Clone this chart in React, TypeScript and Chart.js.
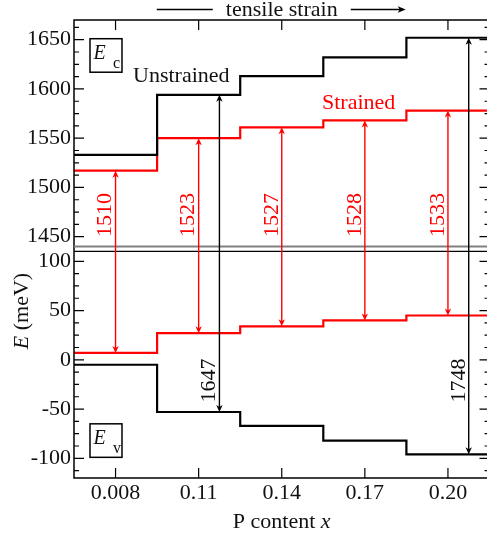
import React, { useEffect, useRef } from "react";
import { Chart, registerables } from "chart.js";

Chart.register(...registerables);

// ---------- data ----------
const categories = ["0.008", "0.11", "0.14", "0.17", "0.20"];
const ecUnstrained = [1533, 1594, 1613, 1632, 1652];
const evUnstrained = [-5, -53, -67, -82, -96];
const ecStrained = [1517, 1550, 1561, 1568, 1578];
const evStrained = [7, 27, 34, 40, 45];
const strainedGapLabels = ["1510", "1523", "1527", "1528", "1533"];
const unstrainedArrowCategories = [1, 4];
const unstrainedGapLabels = ["1647", "1748"];
const ecTicks = [1450, 1500, 1550, 1600, 1650];
const evTicks = [-100, -50, 0, 50, 100];
const ecRange = [1440, 1670];
const evRange = [-120, 110];
const minorStep = 12.5;

// ---------- broken-axis mapping ----------
const GAP = 5;
const OFFSET = ecRange[0] - evRange[1] - GAP; // top panel values shifted onto the shared axis
const mapC = (v: number) => v - OFFSET;
const mapV = (v: number) => v;

const FONT = "'Liberation Serif', 'Times New Roman', serif";
const W = 496;
const H = 537;

function steps(values: number[], map: (v: number) => number) {
  const pts: { x: number; y: number }[] = [];
  values.forEach((v, i) => {
    pts.push({ x: i - 0.5, y: map(v) });
    pts.push({ x: i + 0.5, y: map(v) });
  });
  return pts;
}

function arrowHead(ctx: CanvasRenderingContext2D, x: number, tipY: number, dir: number, color: string) {
  // dir = -1 pointing up, +1 pointing down
  const len = 7;
  const half = 3.2;
  ctx.save();
  ctx.fillStyle = color;
  ctx.beginPath();
  ctx.moveTo(x, tipY);
  ctx.lineTo(x - half, tipY - dir * len);
  ctx.lineTo(x, tipY - dir * (len - 2));
  ctx.lineTo(x + half, tipY - dir * len);
  ctx.closePath();
  ctx.fill();
  ctx.restore();
}

function doubleArrow(
  ctx: CanvasRenderingContext2D,
  x: number,
  yTop: number,
  yBot: number,
  color: string,
  lw: number
) {
  ctx.save();
  ctx.strokeStyle = color;
  ctx.lineWidth = lw;
  ctx.beginPath();
  ctx.moveTo(x, yTop + 3);
  ctx.lineTo(x, yBot - 3);
  ctx.stroke();
  ctx.restore();
  arrowHead(ctx, x, yTop, -1, color);
  arrowHead(ctx, x, yBot, 1, color);
}

function rotatedText(ctx: CanvasRenderingContext2D, text: string, x: number, y: number, color: string) {
  ctx.save();
  ctx.translate(x, y);
  ctx.rotate(-Math.PI / 2);
  ctx.fillStyle = color;
  ctx.font = `22px ${FONT}`;
  ctx.textAlign = "center";
  ctx.textBaseline = "middle";
  ctx.fillText(text, 0, 0);
  ctx.restore();
}

function labelBox(ctx: CanvasRenderingContext2D, x: number, y: number, sub: string) {
  ctx.save();
  ctx.strokeStyle = "#000";
  ctx.lineWidth = 1.5;
  ctx.strokeRect(x, y, 32, 33.5);
  ctx.fillStyle = "#111";
  ctx.textAlign = "left";
  ctx.textBaseline = "alphabetic";
  ctx.font = `italic 20px ${FONT}`;
  ctx.fillText("E", x + 3.5, y + 20);
  ctx.font = `16px ${FONT}`;
  ctx.fillText(sub, x + 23, y + 29.5);
  ctx.restore();
}

const overlayPlugin = {
  id: "overlay",
  afterDatasetsDraw(chart: any) {
    const ctx: CanvasRenderingContext2D = chart.ctx;
    const xs = chart.scales.x;
    const ys = chart.scales.y;
    const area = chart.chartArea;
    const L = area.left;
    const R = area.right;
    const T = area.top;
    const B = area.bottom;
    const topPanelBottom = ys.getPixelForValue(mapC(ecRange[0]));
    const botPanelTop = ys.getPixelForValue(mapV(evRange[1]));

    ctx.save();
    // frames
    ctx.strokeStyle = "#000";
    ctx.lineWidth = 1.5;
    ctx.beginPath();
    ctx.moveTo(L, T);
    ctx.lineTo(R, T);
    ctx.lineTo(R, B);
    ctx.lineTo(L, B);
    ctx.closePath();
    ctx.stroke();
    ctx.strokeStyle = "#808080";
    ctx.lineWidth = 2;
    ctx.beginPath();
    ctx.moveTo(L, topPanelBottom);
    ctx.lineTo(R, topPanelBottom);
    ctx.stroke();
    ctx.strokeStyle = "#000";
    ctx.lineWidth = 1.2;
    ctx.beginPath();
    ctx.moveTo(L, botPanelTop);
    ctx.lineTo(R, botPanelTop);
    ctx.stroke();

    // y ticks (inward, both sides)
    const drawYTicks = (range: number[], majors: number[], map: (v: number) => number) => {
      const start = Math.ceil(range[0] / minorStep) * minorStep;
      for (let v = start; v < range[1]; v += minorStep) {
        const p = ys.getPixelForValue(map(v));
        const isMajor = majors.includes(v);
        const len = isMajor ? 10 : 5;
        ctx.strokeStyle = "#000";
        ctx.lineWidth = 1.2;
        ctx.beginPath();
        ctx.moveTo(L, p);
        ctx.lineTo(L + len, p);
        ctx.moveTo(R, p);
        ctx.lineTo(R - len, p);
        ctx.stroke();
      }
    };
    drawYTicks(ecRange, ecTicks, mapC);
    drawYTicks(evRange, evTicks, mapV);

    // x ticks (inward, top and bottom)
    categories.forEach((_, i) => {
      const px = xs.getPixelForValue(i);
      ctx.strokeStyle = "#000";
      ctx.lineWidth = 1.2;
      ctx.beginPath();
      ctx.moveTo(px, T);
      ctx.lineTo(px, T + 10);
      ctx.moveTo(px, B);
      ctx.lineTo(px, B - 10);
      ctx.stroke();
    });

    // strained gap arrows
    categories.forEach((_, i) => {
      const px = xs.getPixelForValue(i);
      const yTop = ys.getPixelForValue(mapC(ecStrained[i]));
      const yBot = ys.getPixelForValue(mapV(evStrained[i]));
      doubleArrow(ctx, px, yTop, yBot, "#ff0000", 1.4);
      rotatedText(ctx, strainedGapLabels[i], px - 10, ys.getPixelForValue(mapC(1472)), "#ff0000");
    });

    // unstrained gap arrows
    unstrainedArrowCategories.forEach((ci, k) => {
      const px = xs.getPixelForValue(ci + 0.25);
      const yTop = ys.getPixelForValue(mapC(ecUnstrained[ci]));
      const yBot = ys.getPixelForValue(mapV(evUnstrained[ci]));
      doubleArrow(ctx, px, yTop, yBot, "#000", 1.4);
      rotatedText(ctx, unstrainedGapLabels[k], px - 10, ys.getPixelForValue(mapV(-21)), "#111");
    });

    // text annotations
    ctx.font = `22px ${FONT}`;
    ctx.textBaseline = "alphabetic";
    ctx.textAlign = "left";
    ctx.fillStyle = "#111";
    ctx.fillText("Unstrained", L + 59, ys.getPixelForValue(mapC(1607)));
    ctx.fillStyle = "#ff0000";
    ctx.fillText("Strained", L + 248, ys.getPixelForValue(mapC(1580)));

    labelBox(ctx, L + 16, ys.getPixelForValue(mapC(1651)), "c");
    labelBox(ctx, L + 16, ys.getPixelForValue(mapV(-65)), "v");

    // top "tensile strain" annotation
    const cx = (L + R) / 2;
    ctx.fillStyle = "#111";
    ctx.textAlign = "center";
    ctx.fillText("tensile strain", cx, 16);
    ctx.strokeStyle = "#000";
    ctx.lineWidth = 1.3;
    ctx.beginPath();
    ctx.moveTo(cx - 125, 9.5);
    ctx.lineTo(cx - 69, 9.5);
    ctx.moveTo(cx + 69, 9.5);
    ctx.lineTo(cx + 120, 9.5);
    ctx.stroke();
    ctx.fillStyle = "#000";
    ctx.beginPath();
    ctx.moveTo(cx + 124, 9.5);
    ctx.lineTo(cx + 116, 6.3);
    ctx.lineTo(cx + 118, 9.5);
    ctx.lineTo(cx + 116, 12.7);
    ctx.closePath();
    ctx.fill();

    // x title: "P content x"
    ctx.fillStyle = "#111";
    ctx.textAlign = "left";
    ctx.font = `22px ${FONT}`;
    const part1 = "P content ";
    const w1 = ctx.measureText(part1).width;
    ctx.font = `italic 22px ${FONT}`;
    const w2 = ctx.measureText("x").width;
    const sx = cx - (w1 + w2) / 2;
    ctx.font = `22px ${FONT}`;
    ctx.fillText(part1, sx, 528);
    ctx.font = `italic 22px ${FONT}`;
    ctx.fillText("x", sx + w1, 528);

    // y title: "E (meV)"
    ctx.save();
    ctx.translate(28, 311);
    ctx.rotate(-Math.PI / 2);
    ctx.font = `italic 22px ${FONT}`;
    const e1 = ctx.measureText("E").width;
    ctx.font = `22px ${FONT}`;
    const e2 = ctx.measureText(" (meV)").width;
    const s0 = -(e1 + e2) / 2;
    ctx.font = `italic 22px ${FONT}`;
    ctx.fillText("E", s0, 0);
    ctx.font = `22px ${FONT}`;
    ctx.fillText(" (meV)", s0 + e1, 0);
    ctx.restore();

    ctx.restore();
  },
};

export default function App() {
  const ref = useRef<HTMLCanvasElement | null>(null);

  useEffect(() => {
    if (!ref.current) return;
    const lineDs = (data: any, color: string) => ({
      data,
      borderColor: color,
      borderWidth: 2.2,
      pointRadius: 0,
      tension: 0,
      fill: false,
    });
    const chart = new Chart(ref.current, {
      type: "line",
      data: {
        datasets: [
          lineDs(steps(ecUnstrained, mapC), "#000"),
          lineDs(steps(evUnstrained, mapV), "#000"),
          lineDs(steps(ecStrained, mapC), "#ff0000"),
          lineDs(steps(evStrained, mapV), "#ff0000"),
        ],
      },
      options: {
        animation: false,
        responsive: false,
        devicePixelRatio: 1,
        parsing: false as any,
        layout: { padding: { top: 20, right: W - 489.5, left: 0, bottom: 0 } },
        plugins: { legend: { display: false }, tooltip: { enabled: false } },
        scales: {
          x: {
            type: "linear",
            min: -0.5,
            max: 4.5,
            afterBuildTicks: (s: any) => {
              s.ticks = categories.map((_, i) => ({ value: i }));
            },
            afterFit: (s: any) => {
              s.height = 59;
            },
            ticks: {
              autoSkip: false,
              maxRotation: 0,
              padding: 2,
              color: "#111",
              font: { family: FONT, size: 22 },
              callback: (v: any) => categories[Math.round(Number(v))] ?? "",
            },
            grid: { display: false, drawTicks: false },
            border: { display: false },
          },
          y: {
            type: "linear",
            min: evRange[0],
            max: mapC(ecRange[1]),
            afterBuildTicks: (s: any) => {
              s.ticks = [...evTicks.map(mapV), ...ecTicks.map(mapC)].map((v) => ({ value: v }));
            },
            afterFit: (s: any) => {
              s.width = 74;
            },
            ticks: {
              autoSkip: false,
              padding: 3,
              color: "#111",
              font: { family: FONT, size: 22 },
              callback: (v: any) => {
                const n = Number(v);
                return n > evRange[1] ? String(n + OFFSET) : String(n);
              },
            },
            grid: { display: false, drawTicks: false },
            border: { display: false },
          },
        },
      } as any,
      plugins: [overlayPlugin],
    });
    return () => chart.destroy();
  }, []);

  return (
    <div
      style={{
        position: "fixed",
        left: 0,
        top: 0,
        width: 487,
        height: 537,
        overflow: "hidden",
        background: "#fff",
      }}
    >
      <canvas ref={ref} width={W} height={H} style={{ display: "block", width: W, height: H }} />
    </div>
  );
}
